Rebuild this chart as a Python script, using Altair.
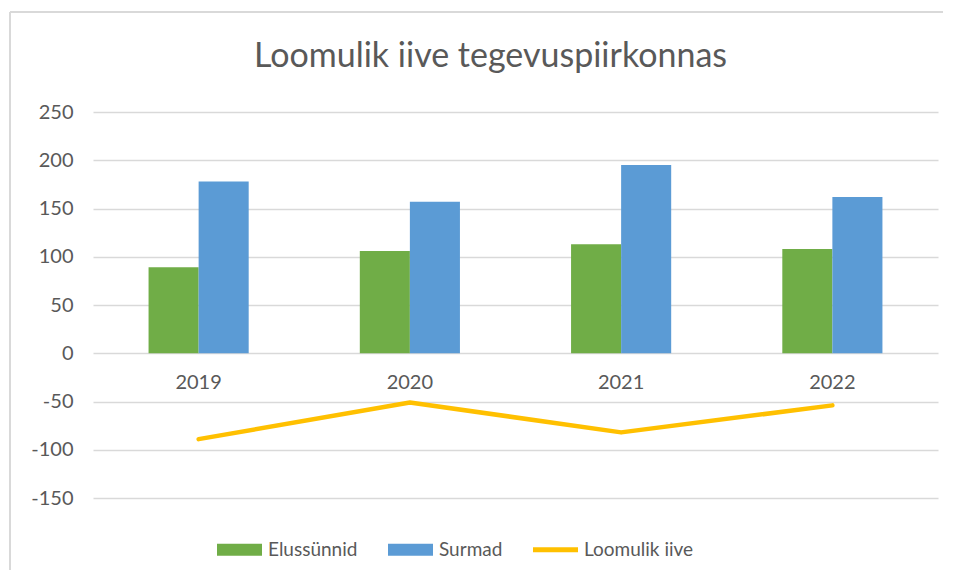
import altair as alt
import pandas as pd

years = ["2019", "2020", "2021", "2022"]
births = [89, 106, 113, 108]
deaths = [178, 157, 195, 162]
natural = [-89, -51, -82, -54]

series_bar = ["Elussünnid", "Surmad"]
series_all = ["Elussünnid", "Surmad", "Loomulik iive"]
colors = ["#70AD47", "#5B9BD5", "#FFC000"]
y_ticks = [-150, -100, -50, 0, 50, 100, 150, 200, 250]

FONT = "Lato"
TXT = "#595959"
GRID = "#D9D9D9"

bar_df = pd.DataFrame(
    [{"year": y, "series": "Elussünnid", "value": v} for y, v in zip(years, births)]
    + [{"year": y, "series": "Surmad", "value": v} for y, v in zip(years, deaths)]
)
line_df = pd.DataFrame({"year": years, "value": natural})
label_df = pd.DataFrame({"year": years})
legend_df = pd.DataFrame({"series": series_all})

x_enc = alt.X("year:N", sort=years,
              scale=alt.Scale(paddingInner=0.526, paddingOuter=0.263), axis=None)
y_scale = alt.Scale(domain=[-150, 250], nice=False, zero=False)

bars = alt.Chart(bar_df).mark_bar().encode(
    x=x_enc,
    xOffset=alt.XOffset("series:N", sort=series_bar,
                        scale=alt.Scale(paddingInner=0, paddingOuter=0)),
    y=alt.Y("value:Q", scale=y_scale,
            axis=alt.Axis(values=y_ticks, grid=True, gridColor=GRID, gridWidth=1.3,
                          domain=False, ticks=False, labelPadding=20,
                          labelFontSize=20, labelFont=FONT, labelColor=TXT,
                          labelExpr="'' + datum.value", title=None)),
    color=alt.Color("series:N", scale=alt.Scale(domain=series_bar, range=colors[:2]),
                    legend=None),
)

line = alt.Chart(line_df).mark_line(color="#FFC000", strokeWidth=4.5,
                                    strokeCap="round", strokeJoin="round").encode(
    x=x_enc,
    y=alt.Y("value:Q", scale=y_scale),
)

labels = alt.Chart(label_df).mark_text(dy=30, fontSize=20, font=FONT, color=TXT).encode(
    x=x_enc,
    y=alt.datum(0),
    text="year:N",
)

rect_path = "M-1,-0.267H1V0.267H-1Z"
line_path = "M-1,-0.11H1V0.11H-1Z"
shape_expr = f"datum.value === 'Loomulik iive' ? '{line_path}' : '{rect_path}'"
leg = alt.Legend(orient="none", legendX=124, legendY=415, direction="horizontal",
                 title=None, symbolSize=2025, symbolOpacity=1, symbolStrokeWidth=0,
                 symbolType=alt.ExprRef(expr=shape_expr),
                 labelFontSize=19, labelFont=FONT, labelColor=TXT,
                 labelOffset=6, columnPadding=30)
legend_layer = alt.Chart(legend_df).mark_point(filled=True, opacity=0).encode(
    color=alt.Color("series:N", sort=series_all,
                    scale=alt.Scale(domain=series_all, range=colors), legend=leg),
)

frame_top = alt.Chart(label_df).mark_rule(color=GRID, strokeWidth=2).encode(
    x=alt.value(-83), x2=alt.value(870), y=alt.value(-100))
frame_left = alt.Chart(label_df).mark_rule(color=GRID, strokeWidth=2).encode(
    x=alt.value(-83), y=alt.value(-100), y2=alt.value(480))

chart = alt.layer(frame_top, frame_left, bars, line, labels, legend_layer).resolve_scale(
    color="independent"
).properties(
    width=845, height=386,
    title=alt.TitleParams("Loomulik iive tegevuspiirkonnas", fontSize=34, font=FONT,
                          color=TXT, fontWeight="normal", anchor="middle", dx=-25,
                          baseline="alphabetic", offset=-90),
    autosize=alt.AutoSizeParams(type="none"),
    padding={"left": 85, "top": 104, "right": 5, "bottom": 72},
).configure(background="white", view=alt.ViewConfig(strokeWidth=0))

chart.save("out.html", embed_options={"renderer": "svg", "actions": False})
